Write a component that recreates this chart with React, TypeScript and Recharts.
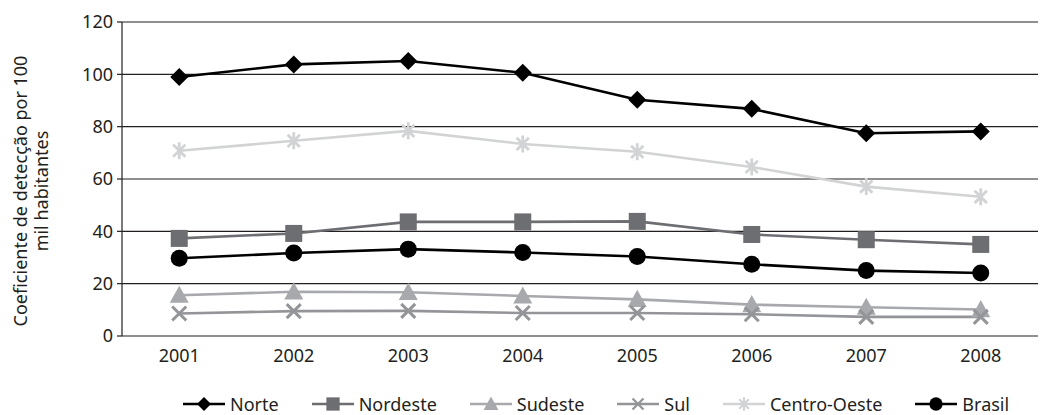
import { LineChart, Line, XAxis, YAxis, CartesianGrid } from "recharts";

const years = ["2001", "2002", "2003", "2004", "2005", "2006", "2007", "2008"];
const norte = [99, 103.8, 105.1, 100.6, 90.3, 86.8, 77.5, 78.2];
const nordeste = [37.3, 39.2, 43.6, 43.6, 43.8, 38.8, 36.8, 35];
const sudeste = [15.6, 16.9, 16.7, 15.3, 14, 12, 11, 10.1];
const sul = [8.6, 9.5, 9.6, 8.8, 8.8, 8.3, 7.3, 7.3];
const centroOeste = [70.8, 74.6, 78.4, 73.4, 70.4, 64.6, 57.1, 53.2];
const brasil = [29.7, 31.7, 33.2, 31.9, 30.4, 27.4, 25, 24.1];
const yTicks = [0, 20, 40, 60, 80, 100, 120];

const FONT = "'Noto Sans', sans-serif";
const INK = "#231f20";

type Shape = "diamond" | "square" | "triangle" | "x" | "star" | "circle";

const series: { key: string; name: string; color: string; shape: Shape; values: number[] }[] = [
  { key: "norte", name: "Norte", color: "#000000", shape: "diamond", values: norte },
  { key: "nordeste", name: "Nordeste", color: "#6d6e71", shape: "square", values: nordeste },
  { key: "sudeste", name: "Sudeste", color: "#a7a9ac", shape: "triangle", values: sudeste },
  { key: "sul", name: "Sul", color: "#939598", shape: "x", values: sul },
  { key: "centroOeste", name: "Centro-Oeste", color: "#d1d3d4", shape: "star", values: centroOeste },
  { key: "brasil", name: "Brasil", color: "#000000", shape: "circle", values: brasil },
];

const data = years.map((y, i) => {
  const row: Record<string, number | string> = { idx: i + 1, year: y };
  series.forEach((s) => (row[s.key] = s.values[i]));
  return row;
});

// tick marks sit between the categories, like the original
const edgeTicks = years.map((_, i) => i + 0.5).concat([years.length + 0.5]);

function marker(shape: Shape, color: string, cx: number, cy: number, k = 1) {
  switch (shape) {
    case "diamond": {
      const r = 9 * k;
      return <path d={`M${cx},${cy - r}L${cx + r},${cy}L${cx},${cy + r}L${cx - r},${cy}Z`} fill={color} />;
    }
    case "square": {
      const r = 8.5 * k;
      return <rect x={cx - r} y={cy - r} width={2 * r} height={2 * r} fill={color} />;
    }
    case "triangle": {
      const r = 9.5 * k;
      return <path d={`M${cx},${cy - r}L${cx + r},${cy + r * 0.8}L${cx - r},${cy + r * 0.8}Z`} fill={color} />;
    }
    case "x": {
      const r = 7 * k;
      return (
        <path d={`M${cx - r},${cy - r}L${cx + r},${cy + r}M${cx - r},${cy + r}L${cx + r},${cy - r}`} stroke={color} strokeWidth={3 * k} />
      );
    }
    case "star": {
      const r = 8.5 * k;
      const d = r * 0.72;
      return (
        <path
          d={`M${cx},${cy - r}L${cx},${cy + r}M${cx - d},${cy - d}L${cx + d},${cy + d}M${cx - d},${cy + d}L${cx + d},${cy - d}`}
          stroke={color}
          strokeWidth={2.8 * k}
        />
      );
    }
    default:
      return <circle cx={cx} cy={cy} r={8.5 * k} fill={color} />;
  }
}

function LegendIcon({ shape, color }: { shape: Shape; color: string }) {
  return (
    <svg width={42} height={20} style={{ display: "block" }}>
      <line x1={0} y1={10} x2={42} y2={10} stroke={color} strokeWidth={2.6} />
      {marker(shape, color, 21, 10, 0.78)}
    </svg>
  );
}

function YLabel(props: any) {
  const { viewBox } = props;
  const cy = viewBox.y + viewBox.height / 2 + 12;
  const x = 27;
  return (
    <text transform={`rotate(-90, ${x}, ${cy})`} x={x} y={cy} textAnchor="middle" fontSize={18} fill={INK} fontFamily={FONT}>
      <tspan x={x} dy={0}>Coeficiente de detecção por 100</tspan>
      <tspan x={x} dy={21}>mil habitantes</tspan>
    </text>
  );
}

export default function App() {
  return (
    <div style={{ position: "absolute", left: 0, top: 0, width: 1040, height: 415, background: "#fff", fontFamily: FONT }}>
      <LineChart width={1040} height={378} data={data} margin={{ top: 22, right: 2, bottom: 2, left: 52 }}>
        <CartesianGrid vertical={false} stroke={INK} strokeWidth={1.2} />
        <XAxis
          xAxisId="edges"
          type="number"
          dataKey="idx"
          domain={[0.5, years.length + 0.5]}
          ticks={edgeTicks}
          tick={false}
          tickSize={8}
          height={0}
          axisLine={{ stroke: INK, strokeWidth: 1.2 }}
          tickLine={{ stroke: INK, strokeWidth: 1.2 }}
        />
        <XAxis
          type="number"
          dataKey="idx"
          domain={[0.5, years.length + 0.5]}
          ticks={years.map((_, i) => i + 1)}
          tickFormatter={(v) => years[v - 1]}
          axisLine={false}
          tickLine={false}
          tickSize={6}
          tickMargin={7}
          height={40}
          tick={{ fontSize: 18, fill: INK, fontFamily: FONT }}
        />
        <YAxis
          domain={[0, 120]}
          ticks={yTicks}
          width={70}
          tickSize={5}
          tickMargin={4}
          axisLine={{ stroke: INK, strokeWidth: 1.2 }}
          tickLine={{ stroke: INK, strokeWidth: 1.2 }}
          tick={{ fontSize: 18, fill: INK, fontFamily: FONT }}
          label={{ content: YLabel }}
        />
        {series.map((s) => (
          <Line
            key={s.key}
            dataKey={s.key}
            name={s.name}
            stroke={s.color}
            strokeWidth={2.6}
            isAnimationActive={false}
            dot={(p: any) => <g key={`${s.key}-${p.index}`}>{marker(s.shape, s.color, p.cx, p.cy)}</g>}
            activeDot={false}
          />
        ))}
      </LineChart>
      <div
        style={{
          position: "absolute",
          top: 394,
          left: 183,
          display: "flex",
          gap: 33,
          fontSize: 18,
          color: INK,
          lineHeight: "20px",
        }}
      >
        {series.map((s) => (
          <div key={s.key} style={{ display: "flex", alignItems: "center", gap: 5 }}>
            <LegendIcon shape={s.shape} color={s.color} />
            <span>{s.name}</span>
          </div>
        ))}
      </div>
    </div>
  );
}
